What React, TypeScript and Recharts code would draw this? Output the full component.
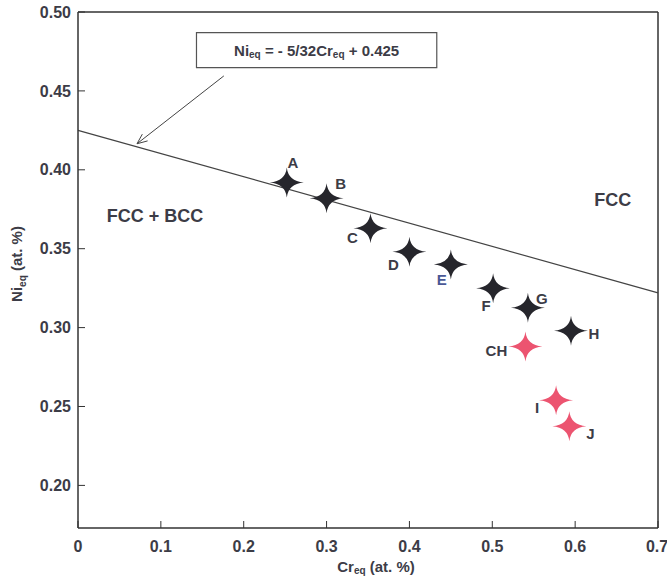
import {
  ScatterChart,
  Scatter,
  XAxis,
  YAxis,
  ReferenceLine,
  ReferenceArea,
  ReferenceDot,
  LabelList,
} from 'recharts';

const blackNames = ['A', 'B', 'C', 'D', 'E', 'F', 'G', 'H'];
const blackCr = [0.252, 0.3, 0.353, 0.4, 0.45, 0.501, 0.543, 0.595];
const blackNi = [0.392, 0.382, 0.363, 0.348, 0.34, 0.325, 0.3125, 0.298];

const redNames = ['CH', 'I', 'J'];
const redCr = [0.54, 0.577, 0.593];
const redNi = [0.288, 0.254, 0.2375];

const boundaryCr = [0, 0.7];
const boundaryNi = [0.425, 0.322];

const xTicks = [0, 0.1, 0.2, 0.3, 0.4, 0.5, 0.6, 0.7];
const yTicks = [0.2, 0.25, 0.3, 0.35, 0.4, 0.45, 0.5];

const blackData = blackNames.map((n, i) => ({ name: n, cr: blackCr[i], ni: blackNi[i] }));
const redData = redNames.map((n, i) => ({ name: n, cr: redCr[i], ni: redNi[i] }));

// label offsets (px) from the star centre
const labelPos: Record<string, [number, number]> = {
  A: [6, -20],
  B: [14, -15],
  C: [-18, 9],
  D: [-16, 13],
  E: [-9, 15],
  F: [-7, 17],
  G: [14, -9],
  H: [23, 3],
  CH: [-29, 4],
  I: [-19, 7],
  J: [21, 7],
};

const FONT = '"Liberation Sans", Arial, sans-serif';
const TXT = '#3c3c46';

function Star(props: any) {
  const { cx, cy, fill } = props;
  const w = 17;
  const h = 15;
  const k = 1.4;
  const d = `M${cx - w},${cy} Q${cx - k},${cy - k} ${cx},${cy - h} Q${cx + k},${cy - k} ${cx + w},${cy} Q${cx + k},${cy + k} ${cx},${cy + h} Q${cx - k},${cy + k} ${cx - w},${cy} Z`;
  return <path d={d} fill={fill} />;
}

function PointLabel(props: any) {
  const { x, y, width, height, value } = props;
  const cx = x + (width || 0) / 2;
  const cy = y + (height || 0) / 2;
  const [dx, dy] = labelPos[value] || [0, 0];
  return (
    <text
      x={cx + dx}
      y={cy + dy}
      textAnchor="middle"
      dominantBaseline="central"
      fontFamily={FONT}
      fontWeight="bold"
      fontSize={15}
      fill={value === 'E' ? '#4a5896' : TXT}
    >
      {value}
    </text>
  );
}

function Arrow(props: any) {
  const { x1, y1, x2, y2 } = props;
  const ang = Math.atan2(y2 - y1, x2 - x1);
  const len = 11;
  const a1 = ang + Math.PI - 0.4;
  const a2 = ang + Math.PI + 0.4;
  return (
    <g stroke="#444" strokeWidth={1} fill="none">
      <line x1={x1} y1={y1} x2={x2} y2={y2} />
      <polyline
        points={`${x2 + len * Math.cos(a1)},${y2 + len * Math.sin(a1)} ${x2},${y2} ${x2 + len * Math.cos(a2)},${y2 + len * Math.sin(a2)}`}
      />
    </g>
  );
}

function BoxText(props: any) {
  const { viewBox } = props;
  const cx = viewBox.x + viewBox.width / 2;
  const cy = viewBox.y + viewBox.height / 2;
  return (
    <text
      x={cx}
      y={cy}
      textAnchor="middle"
      dominantBaseline="central"
      fontFamily={FONT}
      fontWeight="bold"
      fontSize={15}
      fill={TXT}
    >
      Ni<tspan fontSize={10} dy={4}>eq</tspan>
      <tspan dy={-4}> = - 5/32Cr</tspan>
      <tspan fontSize={10} dy={4}>eq</tspan>
      <tspan dy={-4}> + 0.425</tspan>
    </text>
  );
}

function RegionText(text: string) {
  return (props: any) => {
    const { viewBox } = props;
    const cx = viewBox.x + (viewBox.width || 0) / 2;
    const cy = viewBox.y + (viewBox.height || 0) / 2;
    return (
      <text
        x={cx}
        y={cy}
        textAnchor="middle"
        dominantBaseline="central"
        fontFamily={FONT}
        fontWeight="bold"
        fontSize={18}
        fill={TXT}
      >
        {text}
      </text>
    );
  };
}

function XTitle() {
  return (
    <text
      x={376}
      y={572}
      textAnchor="middle"
      fontFamily={FONT}
      fontWeight="bold"
      fontSize={15}
      fill={TXT}
    >
      Cr<tspan fontSize={10} dy={2}>eq</tspan>
      <tspan dy={-2}> (at. %)</tspan>
    </text>
  );
}

function YTitle() {
  return (
    <text
      x={0}
      y={0}
      transform="translate(22,264) rotate(-90)"
      textAnchor="middle"
      fontFamily={FONT}
      fontWeight="bold"
      fontSize={15}
      fill={TXT}
    >
      Ni<tspan fontSize={10} dy={4}>eq</tspan>
      <tspan dy={-4}> (at. %)</tspan>
    </text>
  );
}

const tickStyle = { fill: TXT, fontSize: 16, fontWeight: 'bold', fontFamily: FONT };

export default function App() {
  return (
    <div style={{ position: 'absolute', left: 0, top: 0, background: '#fff' }}>
      <ScatterChart width={667} height={578} margin={{ top: 12, right: 9, bottom: 0, left: 0 }}>
        <XAxis
          type="number"
          dataKey="cr"
          domain={[0, 0.7]}
          ticks={xTicks}
          tickFormatter={(v: number) => (v === 0 ? '0' : v.toFixed(1))}
          tick={tickStyle}
          tickSize={-7}
          tickMargin={20}
          axisLine={{ stroke: '#333', strokeWidth: 1.5 }}
          tickLine={{ stroke: '#333' }}
          height={50}
          allowDataOverflow
          label={{ content: <XTitle /> }}
        />
        <YAxis
          type="number"
          dataKey="ni"
          domain={[0.173, 0.5]}
          ticks={yTicks}
          tickFormatter={(v: number) => v.toFixed(2)}
          tick={tickStyle}
          tickSize={-7}
          tickMargin={14}
          axisLine={{ stroke: '#333', strokeWidth: 1.5 }}
          tickLine={{ stroke: '#333' }}
          width={78}
          allowDataOverflow
          label={{ content: <YTitle /> }}
        />
        <ReferenceLine y={0.5} stroke="#333" strokeWidth={1.5} />
        <ReferenceLine x={0.7} stroke="#333" strokeWidth={1.5} />
        <ReferenceLine
          segment={[
            { x: boundaryCr[0], y: boundaryNi[0] },
            { x: boundaryCr[1], y: boundaryNi[1] },
          ]}
          stroke="#444"
          strokeWidth={1.2}
        />
        <ReferenceLine
          segment={[
            { x: 0.176, y: 0.4595 },
            { x: 0.0712, y: 0.4165 },
          ]}
          shape={<Arrow />}
        />
        <ReferenceArea
          x1={0.143}
          x2={0.433}
          y1={0.4648}
          y2={0.4869}
          fill="#fff"
          fillOpacity={1}
          stroke="#555"
          strokeWidth={1.2}
          label={{ content: <BoxText /> }}
        />
        <ReferenceDot x={0.093} y={0.3705} r={0} stroke="none" label={{ content: RegionText('FCC + BCC') }} />
        <ReferenceDot x={0.6454} y={0.381} r={0} stroke="none" label={{ content: RegionText('FCC') }} />
        <Scatter data={blackData} fill="#26262c" shape={<Star />} isAnimationActive={false}>
          <LabelList dataKey="name" content={<PointLabel />} />
        </Scatter>
        <Scatter data={redData} fill="#ec5470" shape={<Star />} isAnimationActive={false}>
          <LabelList dataKey="name" content={<PointLabel />} />
        </Scatter>
      </ScatterChart>
    </div>
  );
}
